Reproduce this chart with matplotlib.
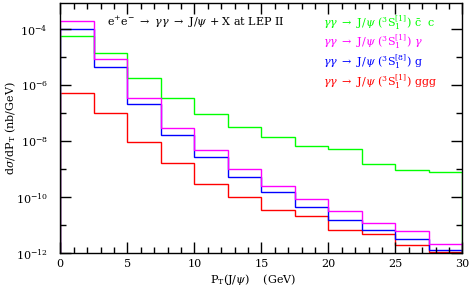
import numpy as np
import matplotlib
matplotlib.use("Agg")
import matplotlib.pyplot as plt
from matplotlib.ticker import FixedLocator, MultipleLocator, NullFormatter

# bin edges in P_T (GeV)
pt_edges = [0, 2.5, 5, 7.5, 10, 12.5, 15, 17.5, 20, 22.5, 25, 27.5, 30]

# log10 of dsigma/dP_T (nb/GeV)
log_cc = [-4.24, -4.84, -5.75, -6.46, -7.03, -7.48, -7.85, -8.18, -8.29, -8.80, -9.04, -9.11]
log_gamma = [-3.71, -5.07, -6.44, -7.51, -8.31, -9.00, -9.58, -10.06, -10.50, -10.91, -11.21, -11.66]
log_octet = [-4.00, -5.34, -6.68, -7.76, -8.57, -9.29, -9.82, -10.34, -10.81, -11.18, -11.50, -11.89]
log_ggg = [-6.26, -7.00, -8.01, -8.79, -9.52, -9.99, -10.46, -10.68, -11.18, -11.31, -11.70, -11.95]

series = [
    (log_ggg, "#ff0000", r"$\gamma\gamma$ $\rightarrow$ J/$\psi$ ($^{3}$S$_{1}^{[1]}$) ggg"),
    (log_octet, "#0000ff", r"$\gamma\gamma$ $\rightarrow$ J/$\psi$ ($^{3}$S$_{1}^{[8]}$) g"),
    (log_cc, "#00ff00", r"$\gamma\gamma$ $\rightarrow$ J/$\psi$ ($^{3}$S$_{1}^{[1]}$) $\bar{\rm c}$  c"),
    (log_gamma, "#ff00ff", r"$\gamma\gamma$ $\rightarrow$ J/$\psi$ ($^{3}$S$_{1}^{[1]}$) $\gamma$"),
]
legend_order = [2, 3, 1, 0]

plt.rcParams["font.family"] = "serif"
plt.rcParams["font.serif"] = ["DejaVu Serif"]
plt.rcParams["mathtext.fontset"] = "dejavuserif"

fig = plt.figure(figsize=(4.71, 2.87), dpi=100)
ax = fig.add_axes([60.3 / 471, 33.7 / 287, 402 / 471, 250.6 / 287])

for vals, col, lab in series:
    ax.stairs(10.0 ** np.array(vals), pt_edges, baseline=1e-13, color=col, lw=1.0)

ax.set_yscale("log")
ax.set_xlim(0, 30)
ax.set_ylim(1e-12, 10 ** -3.05)

ax.xaxis.set_major_locator(MultipleLocator(5))
ax.xaxis.set_minor_locator(MultipleLocator(1))
ax.yaxis.set_major_locator(FixedLocator([1e-12, 1e-10, 1e-8, 1e-6, 1e-4]))
ax.yaxis.set_minor_locator(FixedLocator([1e-11, 1e-9, 1e-7, 1e-5]))
ax.yaxis.set_minor_formatter(NullFormatter())
ax.tick_params(which="both", direction="in", top=True, right=True, width=1.0, labelsize=8)
ax.tick_params(which="major", length=8)
ax.tick_params(which="minor", length=4)
ax.tick_params(axis="y", which="major", pad=9)
ax.tick_params(axis="x", which="major", pad=4)
for s in ax.spines.values():
    s.set_linewidth(1.0)

ax.set_xlabel(r"P$_{\rm T}$(J/$\psi$)    (GeV)", fontsize=8, labelpad=2)
ax.xaxis.set_label_coords(0.48, -0.075)
ax.set_ylabel(r"d$\sigma$/dP$_{\rm T}$ (nb/GeV)", fontsize=8)
ax.yaxis.set_label_coords(-0.105, 0.5)

ax.text(0.116, 0.923, r"e$^{+}$e$^{-}$ $\rightarrow$ $\gamma\gamma$ $\rightarrow$ J/$\psi$ + X at LEP II",
        transform=ax.transAxes, fontsize=8, va="center", ha="left")

ys = [0.920, 0.844, 0.764, 0.687]
for y, idx in zip(ys, legend_order):
    vals, col, lab = series[idx]
    ax.text(0.653, y, lab, transform=ax.transAxes, fontsize=8, color=col, va="center", ha="left")

fig.savefig("out.png", dpi=100)
